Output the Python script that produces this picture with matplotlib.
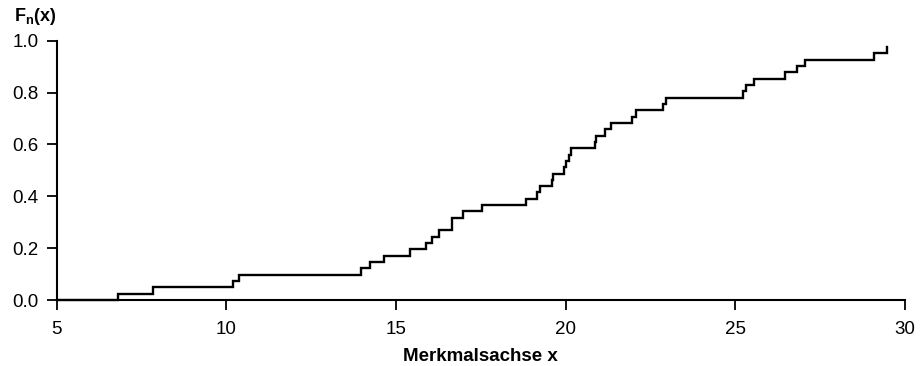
import matplotlib
matplotlib.use("Agg")
import matplotlib.pyplot as plt
import numpy as np

plt.rcParams['font.family'] = ['Liberation Sans', 'DejaVu Sans']
plt.rcParams['mathtext.fontset'] = 'custom'
plt.rcParams['mathtext.bf'] = 'Liberation Sans:bold'
plt.rcParams['mathtext.rm'] = 'Liberation Sans'

# sorted sample (one value per jump of the empirical distribution function)
values = [6.82, 7.83, 10.20, 10.38, 13.98, 14.23, 14.65, 15.43, 15.90, 16.07,
          16.28, 16.64, 16.64, 16.97, 17.54, 18.82, 19.16, 19.26, 19.59, 19.64,
          19.95, 20.02, 20.10, 20.17, 20.86, 20.90, 21.15, 21.33, 21.97, 22.07,
          22.88, 22.97, 25.24, 25.31, 25.56, 26.47, 26.83, 27.05, 29.09, 29.46]
n = 41
x_ticks = [5, 10, 15, 20, 25, 30]
y_ticks = [0.0, 0.2, 0.4, 0.6, 0.8, 1.0]

xs = np.array(values)
fn = np.arange(1, len(xs) + 1) / n

# build the step path: start at the left edge, jump up at every sample value
px = [5.0]
py = [0.0]
prev = 0.0
for xv, yv in zip(xs, fn):
    px += [xv, xv]
    py += [prev, yv]
    prev = yv

fig = plt.figure(figsize=(9.22, 3.66), dpi=100)
ax = fig.add_axes([0.0613, 0.1803, 0.9202, 0.7085])
ax.plot(px, py, color="black", lw=1.7, solid_joinstyle="miter", clip_on=False, zorder=3)

ax.set_xlim(5, 30)
ax.set_ylim(0, 1.0)
ax.set_xticks(x_ticks)
ax.set_xticklabels([str(t) for t in x_ticks])
ax.set_yticks(y_ticks)
ax.set_yticklabels([f"{t:.1f}" for t in y_ticks])
for s in ["top", "right"]:
    ax.spines[s].set_visible(False)
for s in ["left", "bottom"]:
    ax.spines[s].set_linewidth(1.5)
ax.tick_params(axis="both", direction="out", length=7, width=1.3, labelsize=13.5, colors="black")
ax.tick_params(axis="y", pad=6)
ax.tick_params(axis="x", pad=8)

ax.set_xlabel("Merkmalsachse x", fontsize=13.5, fontweight="bold", labelpad=7)
fig.text(0.015, 0.925, r"$\mathbf{F_{n}(x)}$", fontsize=13, ha="left", va="bottom")

fig.savefig("out.png", dpi=100)
